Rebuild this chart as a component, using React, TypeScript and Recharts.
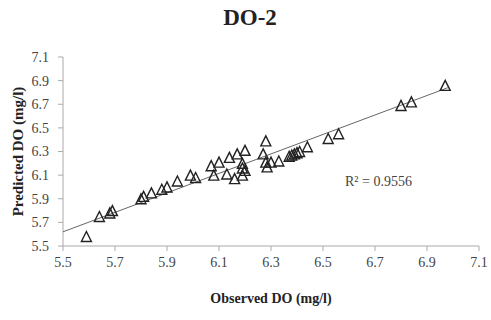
import React from 'react';
import { ScatterChart, Scatter, XAxis, YAxis } from 'recharts';

// observed vs predicted DO (mg/l)
const observed = [
  5.59, 5.64, 5.68, 5.69, 5.80, 5.81, 5.84, 5.88, 5.90, 5.94,
  5.99, 6.01, 6.07, 6.08, 6.10, 6.13, 6.14, 6.16, 6.17, 6.19,
  6.19, 6.19, 6.20, 6.20, 6.28, 6.27, 6.28, 6.285, 6.30, 6.33,
  6.37, 6.38, 6.39, 6.40, 6.41, 6.44, 6.52, 6.56, 6.80, 6.84, 6.97,
];
const predicted = [
  5.58, 5.75, 5.78, 5.80, 5.90, 5.92, 5.95, 5.98, 6.00, 6.05,
  6.10, 6.08, 6.18, 6.10, 6.21, 6.11, 6.25, 6.07, 6.28, 6.10,
  6.16, 6.20, 6.14, 6.31, 6.39, 6.28, 6.21, 6.17, 6.21, 6.22,
  6.26, 6.27, 6.28, 6.29, 6.30, 6.34, 6.41, 6.45, 6.69, 6.72, 6.86,
];
// trendline end points as drawn in the figure
const trendX = [5.5, 6.98];
const trendY = [5.62, 6.84];

const ticks = [5.5, 5.7, 5.9, 6.1, 6.3, 6.5, 6.7, 6.9, 7.1];

const points = observed.map((x, i) => ({ x, y: predicted[i] }));
const trend = trendX.map((x, i) => ({ x, y: trendY[i] }));

const serif = '"Liberation Serif", "Times New Roman", serif';

const Triangle = (props: any) => {
  const { cx, cy } = props;
  if (cx == null || cy == null) return <g />;
  const w = 5, h = 5;
  return (
    <polygon
      points={`${cx},${cy - h} ${cx + w},${cy + h} ${cx - w},${cy + h}`}
      fill="none"
      stroke="#222"
      strokeWidth={1.4}
    />
  );
};

export default function App() {
  const tickStyle = { fontFamily: serif, fontSize: 14, fill: '#444' };
  return (
    <div style={{ position: 'absolute', left: 0, top: 0, width: 491, height: 320, background: '#fff' }}>
      <ScatterChart width={491} height={320} margin={{ top: 57, right: 12, bottom: 0, left: 0 }}>
        <XAxis
          type="number"
          dataKey="x"
          domain={[5.5, 7.1]}
          ticks={ticks}
          tickFormatter={(v: number) => v.toFixed(1)}
          height={74}
          tickSize={5}
          tickMargin={6}
          stroke="#aaa"
          tick={tickStyle}
          label={{
            value: 'Observed DO (mg/l)',
            position: 'insideBottom',
            offset: 17,
            style: { fontFamily: serif, fontSize: 14, fontWeight: 'bold', fill: '#222' },
          }}
        />
        <YAxis
          type="number"
          dataKey="y"
          domain={[5.5, 7.1]}
          ticks={ticks}
          tickFormatter={(v: number) => v.toFixed(1)}
          width={63}
          tickSize={5}
          tickMargin={9}
          stroke="#aaa"
          tick={tickStyle}
          label={{
            value: 'Predicted DO (mg/l)',
            angle: -90,
            position: 'insideLeft',
            offset: 18,
            style: { fontFamily: serif, fontSize: 15, fontWeight: 'bold', fill: '#222', textAnchor: 'middle' },
          }}
        />
        <Scatter
          data={trend}
          line={{ stroke: '#666', strokeWidth: 1 }}
          shape={() => <g />}
          isAnimationActive={false}
        />
        <Scatter data={points} shape={Triangle} isAnimationActive={false} />
      </ScatterChart>
      <div
        style={{
          position: 'absolute', left: 0, width: 500, top: 5, textAlign: 'center',
          fontFamily: serif, fontWeight: 'bold', fontSize: 23, color: '#222',
        }}
      >
        DO-2
      </div>
      <div
        style={{
          position: 'absolute', left: 345, top: 174, fontFamily: serif, fontSize: 14, color: '#444',
        }}
      >
        R² = 0.9556
      </div>
    </div>
  );
}
